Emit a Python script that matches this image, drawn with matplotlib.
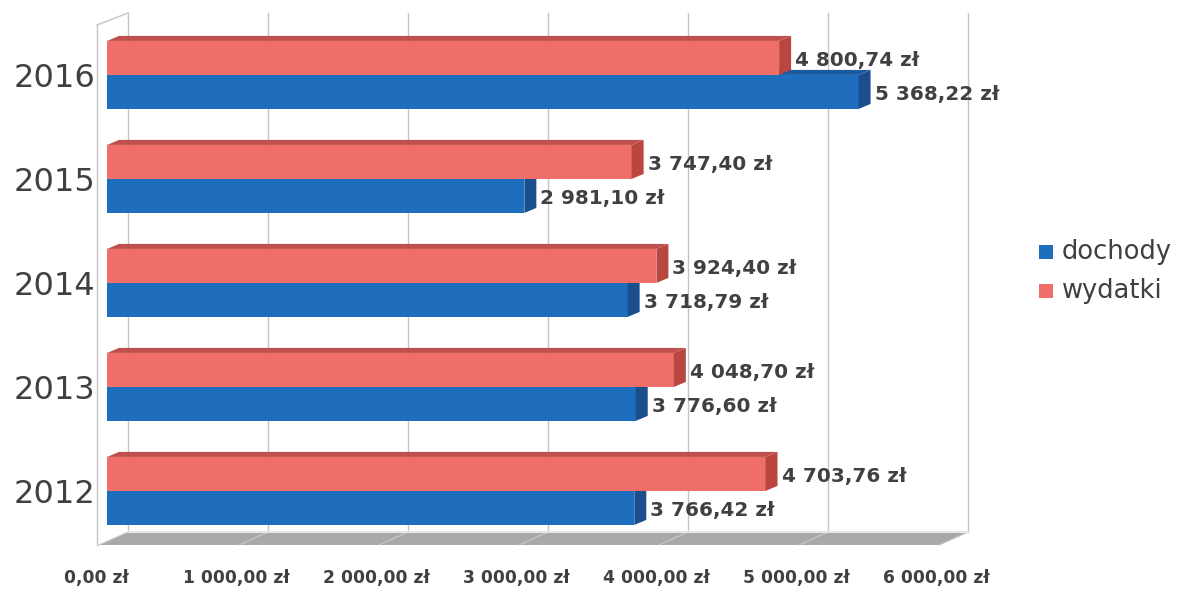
import matplotlib
matplotlib.use("Agg")
import matplotlib.pyplot as plt
from matplotlib.patches import Polygon, Rectangle

# ---- data ----
years = ["2012", "2013", "2014", "2015", "2016"]
dochody = [3766.42, 3776.60, 3718.79, 2981.10, 5368.22]
wydatki = [4703.76, 4048.70, 3924.40, 3747.40, 4800.74]
xticks = [0, 1000, 2000, 3000, 4000, 5000, 6000]
series_names = ["dochody", "wydatki"]

# ---- styles ----
BLUE, BLUE_END, BLUE_TOP = "#1F6EBE", "#1A4E8C", "#1A5A9E"
RED, RED_END, RED_TOP = "#EF6E69", "#B9473F", "#C0504D"
TXT = "#404040"
GRID = "#C4C4C4"

W, H = 1184, 592
fig = plt.figure(figsize=(W / 100, H / 100), dpi=100)
fig.patch.set_facecolor("white")

ax_left, ax_w = 107, 840
ax_bottom_img, ax_h = 545, 512
ax = fig.add_axes([ax_left / W, 1 - ax_bottom_img / H, ax_w / W, ax_h / H])
XMAX = 6000
ppu_y = 104.0
y0 = -0.52
ax.set_xlim(0, XMAX)
ax.set_ylim(y0, y0 + ax_h / ppu_y)
ax.axis("off")

XU = XMAX / ax_w      # data units per pixel (x)
YU = 1.0 / ppu_y      # data units per pixel (y)
ytop = y0 + ax_h / ppu_y

# ---- walls & floor ----
fl_front_y = y0
fl_back_y = y0 + 13 * YU
fl_fl = -8 * XU
fl_fr = XMAX - 7 * XU
dback = 29 * XU
floor = Polygon([(fl_fl, fl_front_y), (fl_fr, fl_front_y),
                 (fl_fr + dback, fl_back_y), (fl_fl + dback, fl_back_y)],
                closed=True, facecolor="#A8A8A8", edgecolor="none",
                zorder=1, clip_on=False)
ax.add_patch(floor)
ax.plot([fl_fl + dback, fl_fr + dback], [fl_back_y, fl_back_y],
        color="#E6E6E6", lw=1.5, zorder=1.5, clip_on=False)

top_back = ytop + 20 * YU
for k in xticks:
    xb = k + 21 * XU
    ax.plot([xb, xb], [fl_back_y, top_back], color=GRID, lw=1.0,
            zorder=0.5, clip_on=False)
    ax.plot([xb, k - 8 * XU], [fl_back_y, fl_front_y], color="#C8C8C8",
            lw=0.8, zorder=1.2, clip_on=False)

lf = -10 * XU
ax.plot([lf, lf], [fl_front_y, ytop + 8 * YU], color=GRID, lw=1.0,
        zorder=0.5, clip_on=False)
ax.plot([lf, 21 * XU], [ytop + 8 * YU, top_back], color=GRID, lw=1.0,
        zorder=0.5, clip_on=False)

# ---- bars ----
h = 34 * YU
ddx, ddy = 12 * XU, 5 * YU
centers = list(range(len(years)))

def fmt(v):
    return f"{v:,.2f}".replace(",", " ").replace(".", ",") + " zł"

for i, c in enumerate(centers):
    vb = dochody[i]
    ax.barh(c - h / 2, vb, height=h, color=BLUE, edgecolor="none", zorder=3)
    ax.add_patch(Polygon([(0, c), (vb, c), (vb + ddx, c + ddy), (ddx, c + ddy)],
                         closed=True, facecolor=BLUE_TOP, edgecolor="none", zorder=3.1))
    ax.add_patch(Polygon([(vb, c - h), (vb, c), (vb + ddx, c + ddy), (vb + ddx, c - h + ddy)],
                         closed=True, facecolor=BLUE_END, edgecolor="none", zorder=3.1))
    vr = wydatki[i]
    ax.barh(c + h / 2, vr, height=h, color=RED, edgecolor="none", zorder=4)
    ax.add_patch(Polygon([(0, c + h), (vr, c + h), (vr + ddx, c + h + ddy), (ddx, c + h + ddy)],
                         closed=True, facecolor=RED_TOP, edgecolor="none", zorder=4.1))
    ax.add_patch(Polygon([(vr, c), (vr, c + h), (vr + ddx, c + h + ddy), (vr + ddx, c + ddy)],
                         closed=True, facecolor=RED_END, edgecolor="none", zorder=4.1))
    ax.text(vr + ddx + 4 * XU, c + h / 2 - 3 * YU, fmt(vr), ha="left", va="center",
            fontsize=14.4, fontweight="bold", color=TXT, zorder=6)
    ax.text(vb + ddx + 4 * XU, c - h / 2 - 3 * YU, fmt(vb), ha="left", va="center",
            fontsize=14.4, fontweight="bold", color=TXT, zorder=6)
    ax.text(-12 * XU, c - 4 * YU, years[i], ha="right", va="center",
            fontsize=23, color=TXT, zorder=6)

for k in xticks:
    lab = f"{k:,.2f}".replace(",", " ").replace(".", ",") + " zł"
    ax.text(k - 11 * XU, y0 - 33 * YU, lab, ha="center", va="center",
            fontsize=12.3, fontweight="bold", color=TXT, clip_on=False)

# ---- legend ----
leg_colors = [BLUE, RED]
leg_y = [252, 291]
for name, col, yy in zip(series_names, leg_colors, leg_y):
    fig.patches.append(Rectangle((1039 / W, 1 - (yy + 7) / H), 14 / W, 14 / H,
                                 transform=fig.transFigure, facecolor=col,
                                 edgecolor="none"))
    fig.text(1062 / W, 1 - yy / H, name, ha="left", va="center",
             fontsize=18.5, color=TXT)

fig.savefig("out.png", dpi=100, facecolor="white")
